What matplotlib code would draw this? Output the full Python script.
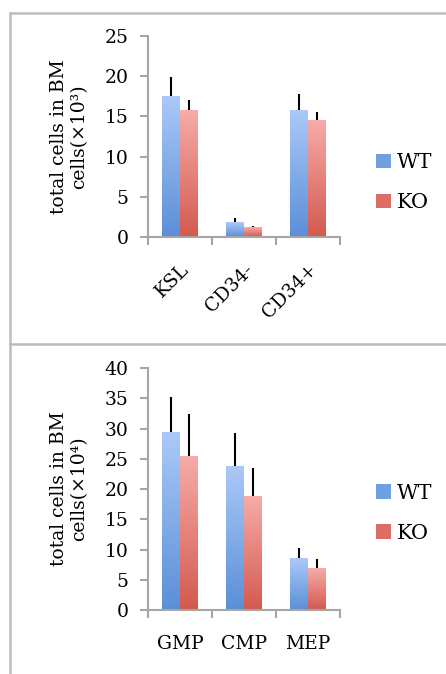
import numpy as np
import matplotlib
matplotlib.use('Agg')
import matplotlib.pyplot as plt
from matplotlib.colors import LinearSegmentedColormap
from matplotlib.patches import Patch
from matplotlib.lines import Line2D

# top panel data (x10^3)
top_cats = ['KSL', 'CD34-', 'CD34+']
top_wt = [17.5, 1.8, 15.7]
top_wt_err = [2.4, 0.5, 2.1]
top_ko = [15.7, 1.15, 14.5]
top_ko_err = [1.3, 0.2, 1.1]

# bottom panel data (x10^4)
bot_cats = ['GMP', 'CMP', 'MEP']
bot_wt = [29.4, 23.7, 8.6]
bot_wt_err = [5.9, 5.6, 1.7]
bot_ko = [25.4, 18.8, 6.8]
bot_ko_err = [7.0, 4.7, 1.7]

plt.rcParams['font.family'] = ['DejaVu Serif']

wt_cmap = LinearSegmentedColormap.from_list('wt', ['#5a8fd8', '#abc9f8'])
ko_cmap = LinearSegmentedColormap.from_list('ko', ['#d4594f', '#f6aca8'])
grad = np.linspace(0, 1, 256).reshape(-1, 1)

spine_col = '#a6a6a6'
fs = 13.5
bw = 0.28


def draw_panel(ax, cats, wt, wt_err, ko, ko_err, ymax, ylabel, rotate, legend_y):
    x = np.arange(len(cats))
    for vals, errs, off, cmap in [(wt, wt_err, -bw / 2, wt_cmap), (ko, ko_err, bw / 2, ko_cmap)]:
        bars = ax.bar(x + off, vals, width=bw, color='none', edgecolor='none', zorder=2)
        for b in bars:
            x0, w, h = b.get_x(), b.get_width(), b.get_height()
            ax.imshow(grad, extent=[x0, x0 + w, 0, h], origin='lower', aspect='auto',
                      cmap=cmap, zorder=2)
        ax.errorbar(x + off, vals, yerr=[np.zeros(len(vals)), errs], fmt='none',
                    ecolor='black', elinewidth=1.5, capsize=0, zorder=1)

    ax.set_xlim(-0.5, len(cats) - 0.5)
    ax.set_ylim(0, ymax)
    ax.set_yticks(np.arange(0, ymax + 1, 5))
    ax.set_xticks(x)
    ax.set_xticks(np.arange(-0.5, len(cats)), minor=True)
    ax.tick_params(axis='x', which='major', length=0, labelsize=fs, pad=18 if not rotate else 17)
    ax.tick_params(axis='x', which='minor', length=6, width=1.5, color=spine_col)
    ax.tick_params(axis='y', length=6, width=1.5, color=spine_col, labelsize=fs, pad=8)
    if rotate:
        ax.set_xticklabels(cats, rotation=45, ha='right', rotation_mode='anchor')
    else:
        ax.set_xticklabels(cats)
    for s in ['top', 'right']:
        ax.spines[s].set_visible(False)
    for s in ['left', 'bottom']:
        ax.spines[s].set_color(spine_col)
        ax.spines[s].set_linewidth(1.5)
    ax.set_ylabel(ylabel, fontsize=fs, linespacing=1.1, labelpad=12)

    handles = [Patch(facecolor='#6e9fe2', label='WT'), Patch(facecolor='#dc6c64', label='KO')]
    ax.legend(handles=handles, loc='center left', bbox_to_anchor=(1.09, legend_y), frameon=False,
              fontsize=fs + 1.5, handlelength=0.7, handleheight=0.7, handletextpad=0.3,
              labelspacing=1.0)


fig = plt.figure(figsize=(4.46, 6.74), dpi=100)
ax1 = fig.add_axes([0.3318, 0.6484, 0.4305, 0.2982])
ax2 = fig.add_axes([0.3318, 0.0950, 0.4305, 0.3586])

draw_panel(ax1, top_cats, top_wt, top_wt_err, top_ko, top_ko_err, 25,
           'total cells in BM\ncells(×10³)', True, 0.27)
draw_panel(ax2, bot_cats, bot_wt, bot_wt_err, bot_ko, bot_ko_err, 40,
           'total cells in BM\ncells(×10⁴)', False, 0.40)

# panel frames
bc = '#bdbdbd'
fig.add_artist(Line2D([10 / 446, 1], [1 - 12.5 / 674] * 2, color=bc, lw=1.8))
fig.add_artist(Line2D([10 / 446] * 2, [0, 1 - 12.5 / 674], color=bc, lw=1.8))
fig.add_artist(Line2D([10 / 446, 1], [1 - 344 / 674] * 2, color=bc, lw=1.8))

fig.savefig('out.png', dpi=100)
